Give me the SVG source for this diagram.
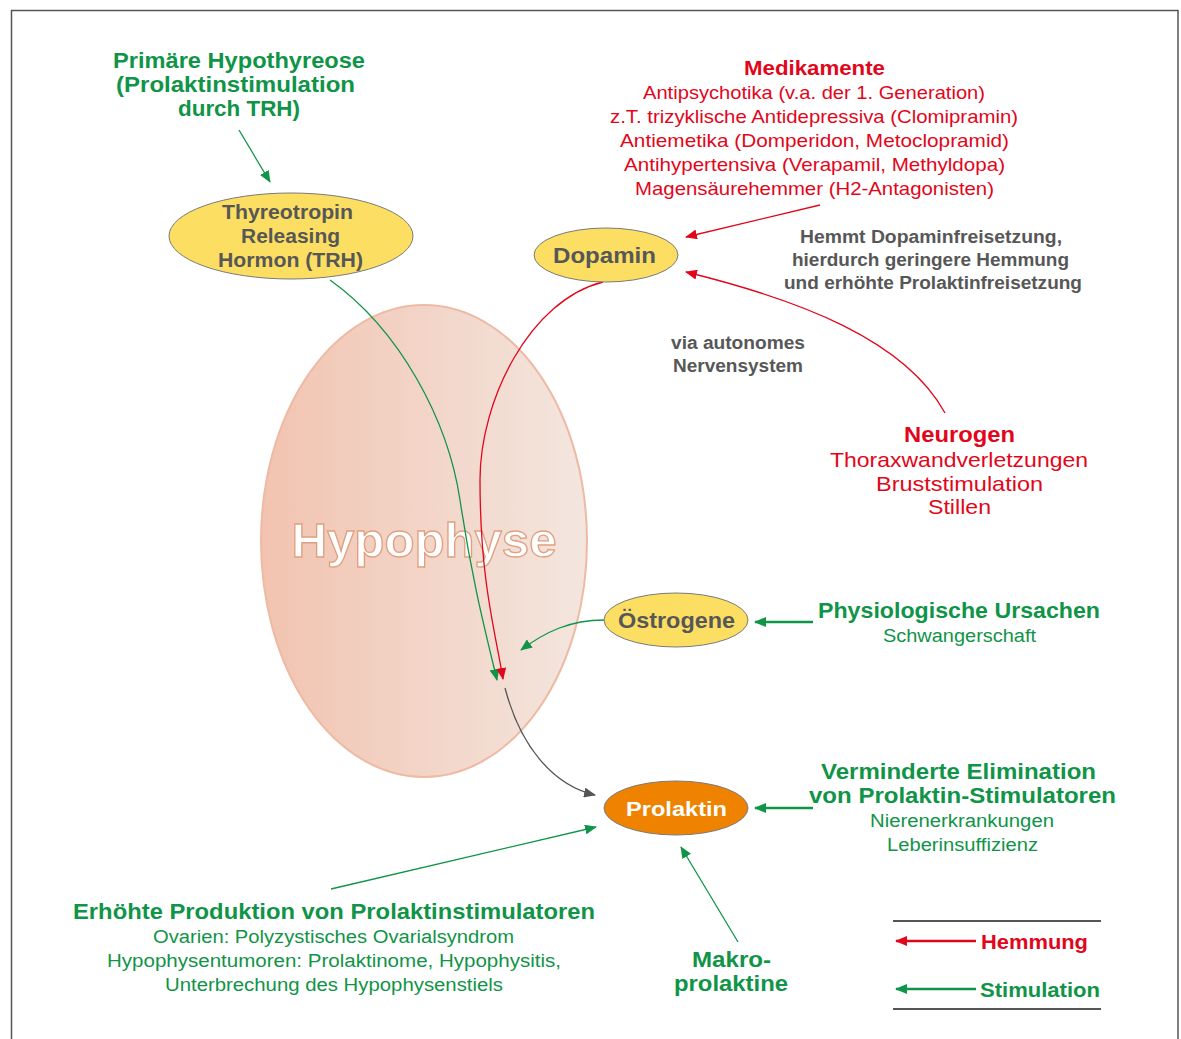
<svg xmlns="http://www.w3.org/2000/svg" width="1181" height="1039" viewBox="0 0 1181 1039">
<defs>
<linearGradient id="hg" x1="0" y1="0" x2="1" y2="0">
<stop offset="0" stop-color="#f2c3b0"/>
<stop offset="1" stop-color="#f3e6df"/>
</linearGradient>
<marker id="ag" viewBox="0 0 12 10" refX="11" refY="5" markerWidth="12" markerHeight="10" markerUnits="userSpaceOnUse" orient="auto"><path d="M0,0 L12,5 L0,10 Z" fill="#109447"/></marker>
<marker id="ar" viewBox="0 0 12 10" refX="11" refY="5" markerWidth="12" markerHeight="10" markerUnits="userSpaceOnUse" orient="auto"><path d="M0,0 L12,5 L0,10 Z" fill="#e2061b"/></marker>
<marker id="ak" viewBox="0 0 12 10" refX="11" refY="5" markerWidth="12" markerHeight="10" markerUnits="userSpaceOnUse" orient="auto"><path d="M0,0 L12,5 L0,10 Z" fill="#555555"/></marker>
</defs>
<style>
text{font-family:"Liberation Sans",Arial,sans-serif;text-anchor:middle}
.g{fill:#109447}.r{fill:#e2061b}.k{fill:#575757}
.b{font-weight:bold}
.h22{font-size:22px}.h20{font-size:20px}.t19{font-size:19px}.t18{font-size:18px}.k17{font-size:17.5px;font-weight:bold}
.node{fill:#fcdf62;stroke:#7a7a7a;stroke-width:1}
.sg{fill:none;stroke:#109447;stroke-width:1.3}
.sr{fill:none;stroke:#e2061b;stroke-width:1.3}
.sk{fill:none;stroke:#555555;stroke-width:1.3}
.lg{fill:none;stroke:#109447;stroke-width:2.5}
.lr{fill:none;stroke:#e2061b;stroke-width:2.5}
</style>
<rect x="0" y="0" width="1181" height="1039" fill="#ffffff"/>
<path d="M11.5,1039 L11.5,10.5 L1178,10.5 L1178,1039" fill="none" stroke="#555555" stroke-width="1.5"/>

<g id="hypophyse">
<ellipse cx="424" cy="541" rx="163" ry="236" fill="url(#hg)" stroke="#eebaa4" stroke-width="2"/>
<text x="424" y="557" textLength="265" lengthAdjust="spacingAndGlyphs" style="font-size:48px;font-weight:bold;fill:#ffffff;stroke:#e0a080;stroke-width:1.3">Hypophyse</text>
</g>

<g id="connectors">
<path class="sg" d="M239,130 L270,182" marker-end="url(#ag)"/>
<path class="sr" d="M820,205 L686,237" marker-end="url(#ar)"/>
<path class="sr" d="M945,413 C905,340 800,300 686,272" marker-end="url(#ar)"/>
<path class="sg" d="M330,280 C400,330 448,420 460,500 C472,580 485,630 497,680" marker-end="url(#ag)"/>
<path class="sr" d="M603,282 C530,300 480,400 480,480 C480,580 495,630 503,679" marker-end="url(#ar)"/>
<path class="sg" d="M604,620 C570,620 545,632 521,650" marker-end="url(#ag)"/>
<path class="sk" d="M505,688 C520,745 552,785 595,795" marker-end="url(#ak)"/>
<path class="lg" d="M813,622 L755,622" marker-end="url(#ag)"/>
<path class="lg" d="M813,808 L755,808" marker-end="url(#ag)"/>
<path class="sg" d="M331,889 L596,827" marker-end="url(#ag)"/>
<path class="sg" d="M738,942 L681,847" marker-end="url(#ag)"/>
</g>

<g id="primaere-hypothyreose">
<text class="g b h22" x="239" y="68" textLength="252" lengthAdjust="spacingAndGlyphs">Primäre Hypothyreose</text>
<text class="g b h22" x="235.5" y="92" textLength="239" lengthAdjust="spacingAndGlyphs">(Prolaktinstimulation</text>
<text class="g b h22" x="239" y="116" textLength="122" lengthAdjust="spacingAndGlyphs">durch TRH)</text>
</g>

<g id="trh">
<ellipse class="node" cx="291" cy="236" rx="122" ry="43"/>
<text class="k b h20" x="287.5" y="219" textLength="131" lengthAdjust="spacingAndGlyphs">Thyreotropin</text>
<text class="k b h20" x="290.5" y="243" textLength="99" lengthAdjust="spacingAndGlyphs">Releasing</text>
<text class="k b h20" x="290.5" y="267" textLength="145" lengthAdjust="spacingAndGlyphs">Hormon (TRH)</text>
</g>

<g id="dopamin">
<ellipse class="node" cx="606" cy="255" rx="72" ry="27"/>
<text class="k b h22" x="604.5" y="263" textLength="103" lengthAdjust="spacingAndGlyphs">Dopamin</text>
</g>

<g id="oestrogene">
<ellipse class="node" cx="676" cy="620" rx="72" ry="27"/>
<text class="k b h22" x="676.5" y="628" textLength="117" lengthAdjust="spacingAndGlyphs">Östrogene</text>
</g>

<g id="prolaktin">
<ellipse cx="676" cy="808" rx="72" ry="27" fill="#ef8300" stroke="#7a7a7a" stroke-width="1"/>
<text class="b" x="676.5" y="816" textLength="101" lengthAdjust="spacingAndGlyphs" style="font-size:21px;fill:#ffffff">Prolaktin</text>
</g>

<g id="medikamente">
<text class="r b h20" x="814.5" y="75" textLength="141" lengthAdjust="spacingAndGlyphs">Medikamente</text>
<text class="r t19" x="814" y="99" textLength="342" lengthAdjust="spacingAndGlyphs">Antipsychotika (v.a. der 1. Generation)</text>
<text class="r t19" x="814" y="123" textLength="408" lengthAdjust="spacingAndGlyphs">z.T. trizyklische Antidepressiva (Clomipramin)</text>
<text class="r t19" x="814.5" y="147" textLength="389" lengthAdjust="spacingAndGlyphs">Antiemetika (Domperidon, Metoclopramid)</text>
<text class="r t19" x="814.5" y="171" textLength="381" lengthAdjust="spacingAndGlyphs">Antihypertensiva (Verapamil, Methyldopa)</text>
<text class="r t19" x="814.5" y="195" textLength="359" lengthAdjust="spacingAndGlyphs">Magensäurehemmer (H2-Antagonisten)</text>
</g>

<g id="hemmt-label">
<text class="k k17" x="931" y="243" textLength="262" lengthAdjust="spacingAndGlyphs">Hemmt Dopaminfreisetzung,</text>
<text class="k k17" x="930.5" y="266" textLength="277" lengthAdjust="spacingAndGlyphs">hierdurch geringere Hemmung</text>
<text class="k k17" x="933" y="289" textLength="298" lengthAdjust="spacingAndGlyphs">und erhöhte Prolaktinfreisetzung</text>
</g>

<g id="via-label">
<text class="k k17" x="738" y="349" textLength="134" lengthAdjust="spacingAndGlyphs">via autonomes</text>
<text class="k k17" x="738" y="372" textLength="130" lengthAdjust="spacingAndGlyphs">Nervensystem</text>
</g>

<g id="neurogen">
<text class="r b h22" x="959.5" y="442" textLength="111" lengthAdjust="spacingAndGlyphs">Neurogen</text>
<text class="r" x="959" y="467" textLength="258" lengthAdjust="spacingAndGlyphs" style="font-size:21px">Thoraxwandverletzungen</text>
<text class="r" x="959.5" y="491" textLength="167" lengthAdjust="spacingAndGlyphs" style="font-size:21px">Bruststimulation</text>
<text class="r" x="959.5" y="514" textLength="63" lengthAdjust="spacingAndGlyphs" style="font-size:21px">Stillen</text>
</g>

<g id="physiologische-ursachen">
<text class="g b h22" x="959" y="618" textLength="282" lengthAdjust="spacingAndGlyphs">Physiologische Ursachen</text>
<text class="g t18" x="959.5" y="642" textLength="153" lengthAdjust="spacingAndGlyphs">Schwangerschaft</text>
</g>

<g id="verminderte-elimination">
<text class="g b h22" x="958.5" y="779" textLength="275" lengthAdjust="spacingAndGlyphs">Verminderte Elimination</text>
<text class="g b h22" x="962.5" y="803" textLength="307" lengthAdjust="spacingAndGlyphs">von Prolaktin-Stimulatoren</text>
<text class="g t18" x="962" y="827" textLength="184" lengthAdjust="spacingAndGlyphs">Nierenerkrankungen</text>
<text class="g t18" x="962.5" y="851" textLength="151" lengthAdjust="spacingAndGlyphs">Leberinsuffizienz</text>
</g>

<g id="erhoehte-produktion">
<text class="g b h22" x="334" y="919" textLength="522" lengthAdjust="spacingAndGlyphs">Erhöhte Produktion von Prolaktinstimulatoren</text>
<text class="g t18" x="333.5" y="943" textLength="361" lengthAdjust="spacingAndGlyphs">Ovarien: Polyzystisches Ovarialsyndrom</text>
<text class="g t18" x="334" y="967" textLength="454" lengthAdjust="spacingAndGlyphs">Hypophysentumoren: Prolaktinome, Hypophysitis,</text>
<text class="g t18" x="334" y="991" textLength="338" lengthAdjust="spacingAndGlyphs">Unterbrechung des Hypophysenstiels</text>
</g>

<g id="makroprolaktine">
<text class="g b h22" x="731.5" y="967" textLength="79" lengthAdjust="spacingAndGlyphs">Makro-</text>
<text class="g b h22" x="731" y="991" textLength="114" lengthAdjust="spacingAndGlyphs">prolaktine</text>
</g>

<g id="legend">
<line x1="893" y1="921" x2="1101" y2="921" stroke="#555555" stroke-width="2"/>
<line x1="893" y1="1009" x2="1101" y2="1009" stroke="#555555" stroke-width="2"/>
<path class="lr" d="M976,941 L896,941" marker-end="url(#ar)"/>
<text class="r b h20" x="981" y="949" textLength="107" lengthAdjust="spacingAndGlyphs" style="text-anchor:start">Hemmung</text>
<path class="lg" d="M976,989 L896,989" marker-end="url(#ag)"/>
<text class="g b h20" x="980" y="997" textLength="120" lengthAdjust="spacingAndGlyphs" style="text-anchor:start">Stimulation</text>
</g>
</svg>
